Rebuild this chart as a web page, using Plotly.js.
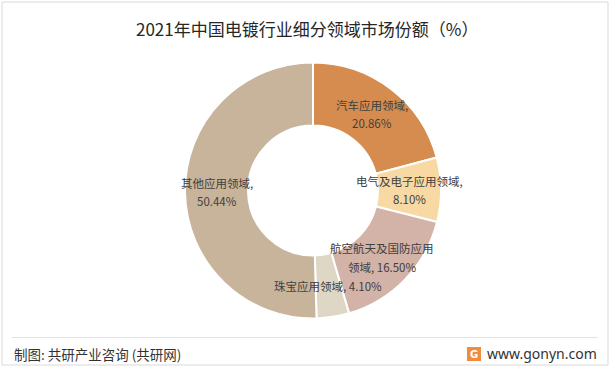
<!DOCTYPE html>
<html>
<head>
<meta charset="utf-8">
<script src="https://cdn.plot.ly/plotly-3.0.1.min.js"></script>
<style>
  html, body { margin: 0; padding: 0; background: #ffffff; }
  #chart { width: 612px; height: 370px; }
</style>
</head>
<body>
<div id="chart"></div>
<script>
// ---- data ----
const categories = ['汽车应用领域', '电气及电子应用领域', '航空航天及国防应用领域', '珠宝应用领域', '其他应用领域'];
const shares = [20.86, 8.10, 16.50, 4.10, 50.44];
const sliceColors = ['#D68C4E', '#F9D9A3', '#D3B2A7', '#DFD7C6', '#C7B49A'];
// how each data label wraps ('after' = break after the comma, number = break name after n chars, 'none' = one line)
const labelWrap = ['after', 'after', 9, 'none', 'after'];

const titleText = '2021年中国电镀行业细分领域市场份额（%）';
const sourceText = '制图: 共研产业咨询 (共研网)';
const siteText = 'www.gonyn.com';

// ---- geometry ----
const W = 612, H = 370;
const cx = 313, cy = 190.5, R = 128, Rin = 65;
const lineGap = 18.5;
const px2x = p => p / W;
const px2y = p => 1 - p / H;

function labelLines(i) {
  const name = categories[i];
  const val = shares[i].toFixed(2) + '%';
  const w = labelWrap[i];
  if (w === 'after') return [name + ',', val];
  if (w === 'none') return [name + ', ' + val];
  return [name.slice(0, w), name.slice(w) + ', ' + val];
}

const total = shares.reduce((a, b) => a + b, 0);
const annotations = [];
let cum = 0;
const rm = (R + Rin) / 2;
shares.forEach((v, i) => {
  const th = 2 * Math.PI * (cum + v / 2) / total;
  cum += v;
  const x = cx + rm * Math.sin(th);
  const y = cy - rm * Math.cos(th);
  const lines = labelLines(i);
  lines.forEach((t, k) => {
    const yy = y + (k - (lines.length - 1) / 2) * lineGap;
    annotations.push({
      xref: 'paper', yref: 'paper', x: px2x(x), y: px2y(yy),
      xanchor: 'center', yanchor: 'middle', showarrow: false,
      text: t, align: 'center',
      font: { family: 'Noto Sans CJK SC, sans-serif', size: 11.5, color: '#404040' }
    });
  });
});

// title
annotations.push({
  xref: 'paper', yref: 'paper', x: px2x(307), y: px2y(28),
  xanchor: 'center', yanchor: 'middle', showarrow: false, text: titleText,
  font: { family: 'Noto Sans CJK SC, sans-serif', size: 17, color: '#262626' }
});
// footer
annotations.push({
  xref: 'paper', yref: 'paper', x: px2x(12), y: px2y(354),
  xanchor: 'left', yanchor: 'middle', showarrow: false, text: sourceText,
  font: { family: 'Noto Sans CJK SC, sans-serif', size: 13.5, color: '#333333' }
});
annotations.push({
  xref: 'paper', yref: 'paper', x: px2x(599), y: px2y(353),
  xanchor: 'right', yanchor: 'middle', showarrow: false, text: siteText,
  font: { family: 'Noto Sans, sans-serif', size: 14, color: '#333333' }
});
annotations.push({
  xref: 'paper', yref: 'paper', x: px2x(474), y: px2y(354),
  xanchor: 'center', yanchor: 'middle', showarrow: false, text: '<b>G</b>',
  font: { family: 'DejaVu Sans, sans-serif', size: 10, color: '#ffffff' }
});

const shapes = [
  { type: 'rect', xref: 'paper', yref: 'paper', x0: px2x(2), x1: px2x(608), y0: px2y(2), y1: px2y(365),
    line: { color: '#D9D9D9', width: 1 }, fillcolor: 'rgba(0,0,0,0)' },
  { type: 'line', xref: 'paper', yref: 'paper', x0: px2x(12), x1: px2x(598), y0: px2y(337.5), y1: px2y(337.5),
    line: { color: '#E3E3E3', width: 1 } },
  { type: 'rect', xref: 'paper', yref: 'paper', x0: px2x(467), x1: px2x(481), y0: px2y(347), y1: px2y(361),
    line: { width: 0 }, fillcolor: '#F28B3C' }
];

const trace = {
  type: 'pie',
  labels: categories,
  values: shares,
  sort: false,
  direction: 'clockwise',
  rotation: 0,
  hole: Rin / R,
  textinfo: 'none',
  hoverinfo: 'label+percent',
  marker: { colors: sliceColors, line: { color: '#ffffff', width: 2 } },
  domain: { x: [px2x(cx - R), px2x(cx + R)], y: [px2y(cy + R), px2y(cy - R)] },
  showlegend: false
};

const layout = {
  width: W, height: H,
  margin: { l: 0, r: 0, t: 0, b: 0 },
  paper_bgcolor: '#ffffff',
  plot_bgcolor: '#ffffff',
  showlegend: false,
  annotations: annotations,
  shapes: shapes
};

Plotly.newPlot('chart', [trace], layout, { displayModeBar: false, staticPlot: true });
</script>
</body>
</html>
